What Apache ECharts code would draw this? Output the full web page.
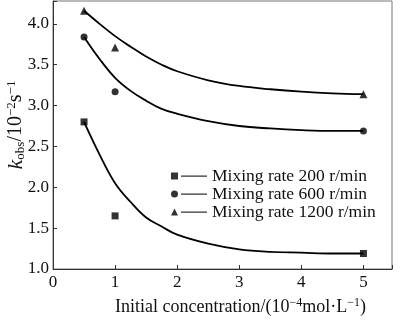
<!DOCTYPE html>
<html>
<head>
<meta charset="utf-8">
<script src="https://cdn.jsdelivr.net/npm/echarts@6/dist/echarts.min.js"></script>
<style>
html,body{margin:0;padding:0;background:#fff;}
#c{width:400px;height:321px;}
</style>
</head>
<body>
<div id="c"></div>
<script>
// Series names
var seriesNames = ['Mixing rate 200 r/min', 'Mixing rate 600 r/min', 'Mixing rate 1200 r/min'];
// Measured points: [concentration, k_obs]
var pts200 = [[0.5, 2.80], [1, 1.65], [5, 1.19]];
var pts600 = [[0.5, 3.84], [1, 3.17], [5, 2.69]];
var pts1200 = [[0.5, 4.16], [1, 3.71], [5, 3.14]];
// Fitted curves
var fitX = [0.5, 0.75, 1, 1.25, 1.5, 1.75, 2, 2.5, 3, 3.5, 4, 4.5, 5];
var fit200 = [2.80, 2.40, 2.05, 1.82, 1.63, 1.52, 1.42, 1.31, 1.24, 1.21, 1.20, 1.19, 1.19];
var fit600 = [3.84, 3.57, 3.34, 3.18, 3.06, 2.96, 2.90, 2.81, 2.75, 2.72, 2.70, 2.69, 2.69];
var fit1200 = [4.16, 4.00, 3.85, 3.72, 3.60, 3.50, 3.42, 3.31, 3.24, 3.20, 3.17, 3.15, 3.14];
// Tick labels
var xTicks = [0, 1, 2, 3, 4, 5];
var yTicks = [1.0, 1.5, 2.0, 2.5, 3.0, 3.5, 4.0];

var FONT = '"Liberation Serif", "Times New Roman", serif';
function zip(xs, ys) { return xs.map(function (x, i) { return [x, ys[i]]; }); }

var symbols = ['rect', 'circle', 'triangle'];
var iconPaths = [
  'path://M0,0H7V7H0Z M10,3H36V4.2H10Z',
  'path://M0,3.5A3.5,3.5,0,1,1,7,3.5A3.5,3.5,0,1,1,0,3.5Z M10,3H36V4.2H10Z',
  'path://M3.5,0L7,7H0Z M10,3H36V4.2H10Z'
];
var ptsAll = [pts200, pts600, pts1200];
var fitAll = [fit200, fit600, fit1200];
var series = [];
for (var i = 0; i < 3; i++) {
  series.push({
    name: seriesNames[i] + ' fit', type: 'line', smooth: 0.4, showSymbol: false,
    data: zip(fitX, fitAll[i]), lineStyle: { color: '#000', width: 1.8 }, itemStyle: { color: '#000' },
    silent: true, z: 2
  });
  series.push({
    name: seriesNames[i], type: 'scatter', symbol: symbols[i],
    symbolSize: i === 2 ? 8 : 7, data: ptsAll[i], itemStyle: { color: '#000' }, z: 3
  });
}

var chart = echarts.init(document.getElementById('c'), null, { renderer: 'canvas' });
chart.setOption({
  animation: false,
  backgroundColor: '#fff',
  grid: { left: 53, right: 8, top: 1, bottom: 44, show: true, borderColor: '#777', borderWidth: 1 },
  legend: {
    orient: 'vertical', left: 171, top: 167, padding: 0, itemWidth: 36, itemHeight: 7, itemGap: 0,
    data: seriesNames.map(function (n, i) { return { name: n, icon: iconPaths[i] }; }),
    textStyle: { fontFamily: FONT, fontSize: 17.5, color: '#111', lineHeight: 17.7 },
    selectedMode: false
  },
  xAxis: {
    type: 'value', min: 0, max: 5.46, interval: 1,
    name: '{a|Initial concentration/(10}{s|−4}{a|mol·L}{s|−1}{a|)}',
    nameLocation: 'middle', nameGap: 28,
    nameTextStyle: {
      padding: [0, 0, 0, 36],
      rich: {
        a: { fontFamily: FONT, fontSize: 18, color: '#111', lineHeight: 20, verticalAlign: 'middle' },
        s: { fontFamily: FONT, fontSize: 12, color: '#111', lineHeight: 12, verticalAlign: 'top' }
      }
    },
    axisLine: { lineStyle: { color: '#333', width: 1 } },
    axisTick: { inside: true, length: 4, lineStyle: { color: '#333' } },
    splitLine: { show: false },
    axisLabel: {
      fontFamily: FONT, fontSize: 17, color: '#111', margin: 5,
      formatter: function (v) { return xTicks.indexOf(Math.round(v)) >= 0 && Math.abs(v - Math.round(v)) < 1e-6 ? String(Math.round(v)) : ''; }
    }
  },
  yAxis: {
    type: 'value', min: 1.0, max: 4.28, interval: 0.5,
    axisLine: { show: true, lineStyle: { color: '#333', width: 1 } },
    axisTick: { show: true, inside: true, length: 4, lineStyle: { color: '#333' } },
    splitLine: { show: false },
    axisLabel: {
      fontFamily: FONT, fontSize: 17, color: '#111', margin: 4,
      formatter: function (v) {
        for (var k = 0; k < yTicks.length; k++) if (Math.abs(yTicks[k] - v) < 1e-6) return yTicks[k].toFixed(1);
        return '';
      }
    }
  },
  graphic: [{
    type: 'text', x: 16, y: 125, rotation: Math.PI / 2,
    style: {
      text: '{k|k}{sub|obs}{a|/10}{sup|−2}{a|s}{sup|−1}',
      align: 'center', verticalAlign: 'middle',
      rich: {
        k: { fontFamily: FONT, fontSize: 22, fontStyle: 'italic', fill: '#111', lineHeight: 22, verticalAlign: 'middle' },
        a: { fontFamily: FONT, fontSize: 20, fill: '#111', lineHeight: 22, verticalAlign: 'middle' },
        sub: { fontFamily: FONT, fontSize: 13, fill: '#111', lineHeight: 12, verticalAlign: 'bottom' },
        sup: { fontFamily: FONT, fontSize: 13, fill: '#111', lineHeight: 12, verticalAlign: 'top' }
      }
    }
  }],
  series: series
});
</script>
</body>
</html>
